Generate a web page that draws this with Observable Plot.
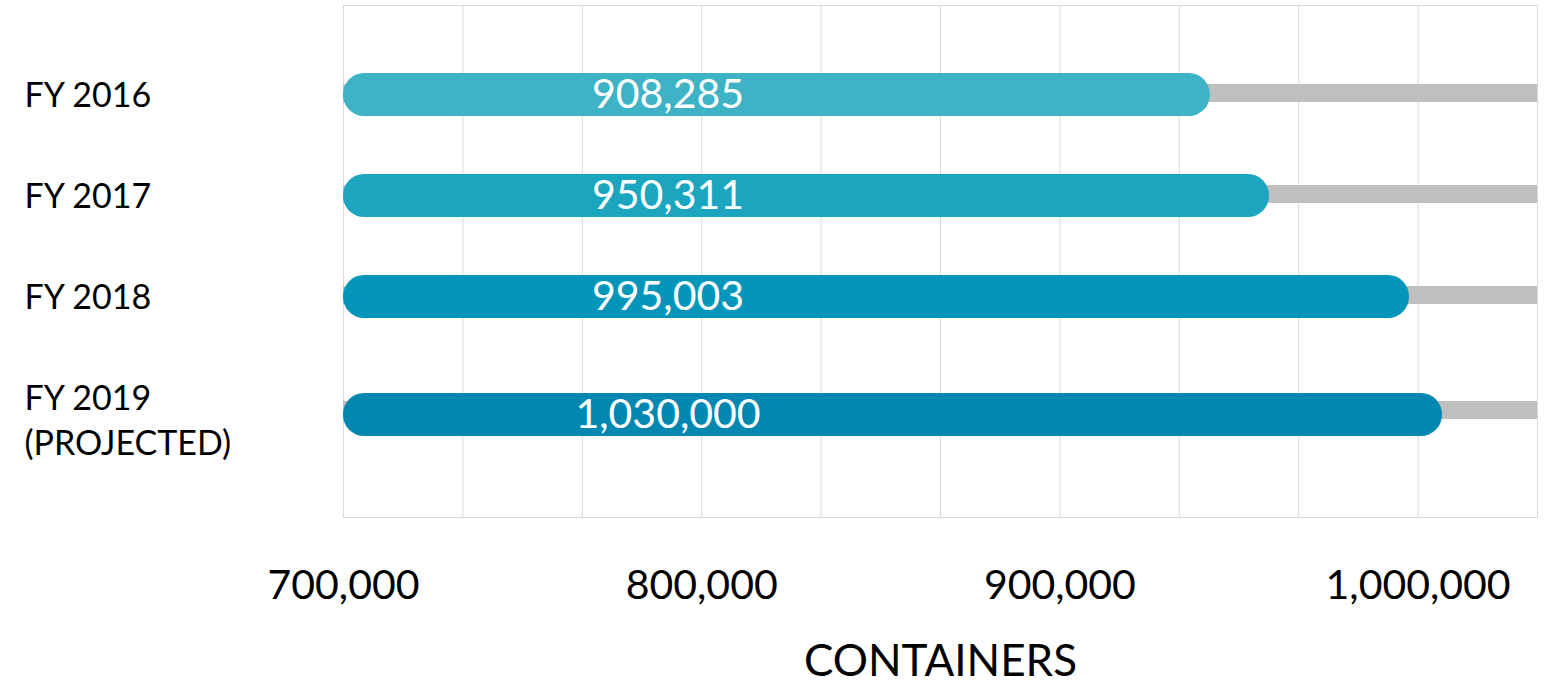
<!DOCTYPE html>
<html>
<head>
<meta charset="utf-8">
<script src="https://cdn.jsdelivr.net/npm/d3@7"></script>
<script src="https://cdn.jsdelivr.net/npm/@observablehq/plot@0.6"></script>
<style>
  html, body { margin: 0; padding: 0; background: #fff; }
  #chart svg { display: block; }
</style>
</head>
<body>
<div id="chart"></div>
<script>
// ---- data ----
const years = ["FY 2016", "FY 2017", "FY 2018", "FY 2019"];
const yearLabels = ["FY 2016", "FY 2017", "FY 2018", "FY 2019\n(PROJECTED)"];
const valueLabels = ["908,285", "950,311", "995,003", "1,030,000"];
// bar end positions as drawn in the picture
const barEnds = [942000, 958500, 997600, 1006800];
const barColors = ["#3eb3c5", "#1ba5bf", "#0395ba", "#0287b0"];
const xTicks = [700000, 800000, 900000, 1000000];
const axisTitle = "CONTAINERS";

const xMin = 700000, xMax = 1033333.33;
const gridTicks = d3.range(0, 11).map(i => xMin + i * (100000 / 3));

const rows = years.map((y, i) => ({year: y, yearLabel: yearLabels[i], label: valueLabels[i], end: barEnds[i]}));
const last = years[years.length - 1];
const main = d => d.year !== last;
const proj = d => d.year === last;

const font = "Lato, 'Open Sans', sans-serif";
const labelX = 790600;

const chart = Plot.plot({
  width: 1545,
  height: 685,
  marginLeft: 343,
  marginRight: 8,
  marginTop: 5,
  marginBottom: 168,
  style: {background: "#fff", fontFamily: font, overflow: "visible"},
  x: {domain: [xMin, xMax], axis: null},
  y: {domain: years, range: [43, 448], padding: 0, axis: null},
  color: {domain: years, range: barColors},
  marks: [
    Plot.gridX(gridTicks, {stroke: "#d9d9d9", strokeOpacity: 1, strokeWidth: 1}),
    Plot.frame({stroke: "#d9d9d9", strokeWidth: 1}),
    // grey tracks
    Plot.barX(rows, {filter: main, x1: () => xMin, x2: () => xMax, y: "year", fill: "#bfbfbf", insetTop: 41, insetBottom: 42, dy: -1}),
    Plot.barX(rows, {filter: proj, x1: () => xMin, x2: () => xMax, y: "year", fill: "#bfbfbf", insetTop: 41, insetBottom: 42, dy: 13}),
    // coloured bars
    Plot.barX(rows, {filter: main, x1: () => xMin, x2: "end", y: "year", fill: "year", rx: 21, insetTop: 29, insetBottom: 29}),
    Plot.barX(rows, {filter: proj, x1: () => xMin, x2: "end", y: "year", fill: "year", rx: 21, insetTop: 29, insetBottom: 29, dy: 17}),
    // value labels
    Plot.text(rows, {filter: main, x: () => labelX, y: "year", text: "label", fill: "white", fontSize: 41, fontFamily: font}),
    Plot.text(rows, {filter: proj, x: () => labelX, y: "year", text: "label", fill: "white", fontSize: 41, fontFamily: font, dy: 17}),
    // category labels
    Plot.text(rows, {frameAnchor: "left", y: "year", text: "yearLabel", textAnchor: "start", dx: -319, lineAnchor: "top", dy: -20, lineHeight: 1.32, fontSize: 34, fill: "black", fontFamily: font}),
    // x axis
    Plot.axisX(xTicks, {tickSize: 0, tickPadding: 52, fontSize: 41, fill: "black", fontFamily: font, tickFormat: d => d3.format(",")(d), label: null}),
    Plot.text([axisTitle], {frameAnchor: "bottom", dy: 158, fontSize: 44, fill: "black", fontFamily: font})
  ]
});
document.getElementById("chart").appendChild(chart);
</script>
</body>
</html>
